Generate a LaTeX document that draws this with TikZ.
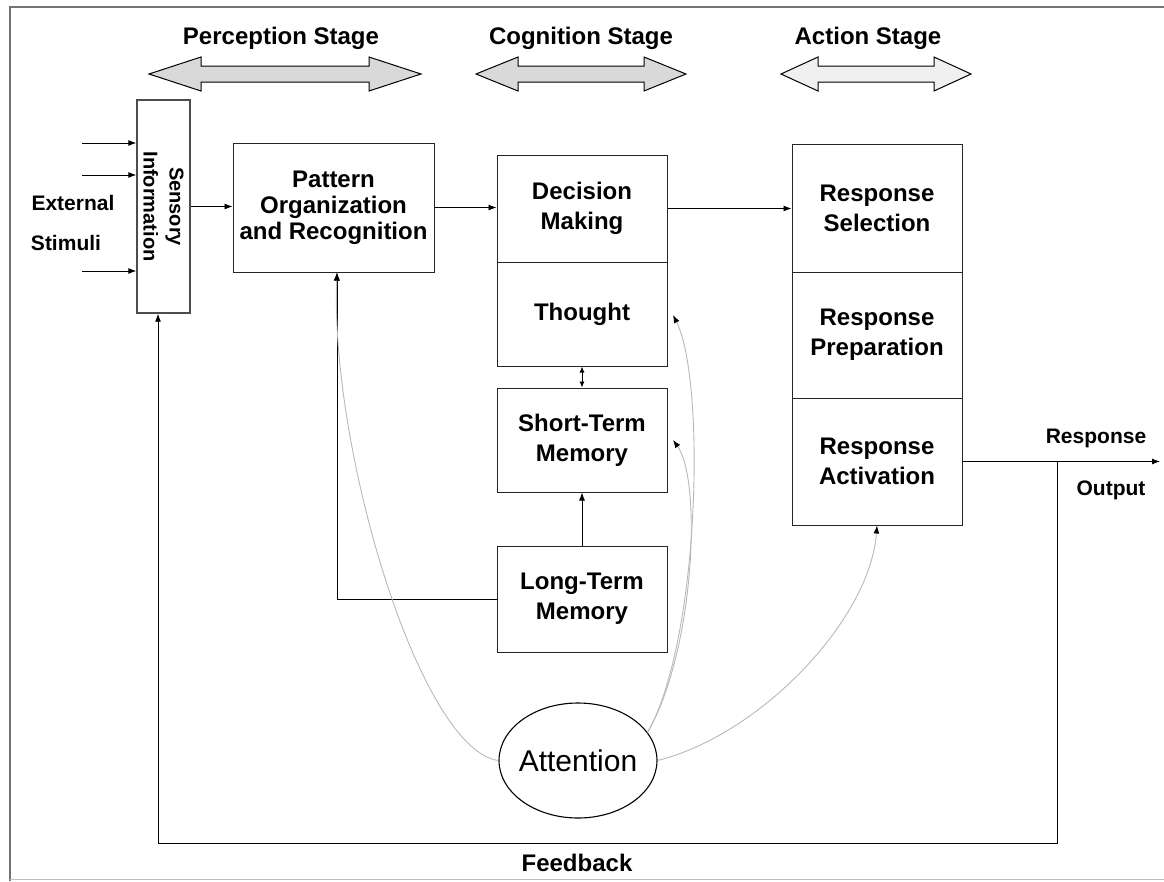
\documentclass[tikz,border=0pt]{standalone}
\usepackage{fontspec}
\setmainfont{Liberation Sans}
\usetikzlibrary{arrows.meta,shapes.geometric}
\newcommand{\stgarrow}[5]{%
  \draw[stagearr, fill=#5] (#1,#4) -- ({#1+#3},{#4-17}) -- ({#1+#3},{#4-8}) -- ({#2-#3},{#4-8}) -- ({#2-#3},{#4-17}) -- (#2,#4) -- ({#2-#3},{#4+17}) -- ({#2-#3},{#4+8}) -- ({#1+#3},{#4+8}) -- ({#1+#3},{#4+17}) -- cycle;}
\begin{document}
\begin{tikzpicture}[x=1pt,y=-1pt,
  cell/.style={draw=black!85, line width=1pt, fill=white, inner sep=0pt, align=center,
               font=\fontsize{24}{30}\selectfont\bfseries},
  stagelbl/.style={font=\fontsize{24}{28}\selectfont\bfseries},
  smalllbl/.style={font=\fontsize{21}{24}\selectfont\bfseries},
  stagearr/.style={draw=black, line width=1pt, line join=miter},
  arr/.style={draw=black, line width=0.9pt, -{Latex[length=8pt,width=6pt]}},
  darr/.style={draw=black, line width=0.9pt, {Latex[length=6pt,width=5pt]}-{Latex[length=6pt,width=5pt]}},
  attn/.style={draw=black!28, line width=0.9pt, -{Latex[length=8pt,width=6pt,black]}},
  frame/.style={draw=black!55, line width=1.2pt}]
\useasboundingbox (0,0) rectangle (1164,881);
% frame
\draw[frame] (10,881) -- (10,7) -- (1164,7);
\draw[draw=black!25, line width=1pt] (10,879) -- (1164,879);

% stage labels and arrows
\node[stagelbl] (perc) at (281,38) {Perception Stage};
\node[stagelbl] (cogn) at (581,38) {Cognition Stage};
\node[stagelbl] (actn) at (868,38) {Action Stage};
\stgarrow{149}{421}{52}{74}{black!15}
\stgarrow{476}{686}{42}{74}{black!15}
\stgarrow{781}{971}{37}{74}{black!6}

% boxes
\node[cell, minimum width=53, minimum height=213, line width=1.4pt, draw=black!70] (sensory) at (163.5,206.5) {};
\node[rotate=-90, align=center, font=\fontsize{20}{26}\selectfont\bfseries] (sensorytxt) at (163.5,206.5) {Sensory\\Information};
\node[cell, minimum width=201, minimum height=129] (pattern) at (333.5,207.5) {Pattern\\[-4pt]Organization\\[-4pt]and Recognition};
\node[cell, minimum width=170, minimum height=107] (decision) at (582,208.5) {Decision\\Making};
\node[cell, minimum width=170, minimum height=104] (thought) at (582,314) {Thought};
\node[cell, minimum width=170, minimum height=104] (stm) at (582,440) {Short-Term\\Memory};
\node[cell, minimum width=170, minimum height=106] (ltm) at (582,599) {Long-Term\\Memory};
\node[cell, minimum width=170, minimum height=128] (rs) at (877,208) {Response\\Selection};
\node[cell, minimum width=170, minimum height=126] (rp) at (877,335) {Response\\Preparation};
\node[cell, minimum width=170, minimum height=127] (ra) at (877,461.5) {Response\\Activation};
\node[ellipse, draw=black, line width=1.1pt, minimum width=158, minimum height=115, inner sep=0pt] (att) at (578,760.5) {};
\node[font=\fontsize{30}{34}\selectfont] (atttxt) at (578,760.5) {Attention};

% labels
\node[smalllbl] (ext) at (73,203) {External};
\node[smalllbl] (stim) at (66,243) {Stimuli};
\node[smalllbl] (resp) at (1096,438) {Response};
\node[smalllbl] (outp) at (1111,490) {Output};
\node[stagelbl] (fbl) at (577,863) {Feedback};

% external inputs
\coordinate (in1) at (82,143);
\coordinate (in2) at (82,175);
\coordinate (in3) at (82,271);
\draw[arr] (in1) -- (in1 -| sensory.west);
\draw[arr] (in2) -- (in2 -| sensory.west);
\draw[arr] (in3) -- (in3 -| sensory.west);

% main flow
\draw[arr] (sensory.east) -- (sensory.east -| pattern.west);
\draw[arr] (pattern.east) -- (pattern.east -| decision.west);
\draw[arr] (decision.east) -- (decision.east -| rs.west);
\draw[darr] (thought.south) -- (stm.north);
\draw[arr] (ltm.north) -- (stm.south);
\draw[arr] (ltm.west) -| ([xshift=3.5pt]pattern.south);

% output and feedback
\coordinate (out) at (1160,461.5);
\coordinate (fbtop) at (1057,461.5);
\coordinate (fbcorner) at (1057,843);
\draw[arr] (ra.east) -- (out);
\draw[arr] (fbtop) -- (fbcorner) -| ([xshift=-5.5pt]sensory.south);

% attention links
\draw[attn] (att.west) .. controls (420,750) and (330,450) .. ([xshift=3.5pt]pattern.south);
\draw[attn] (att.22) .. controls (700,640) and (706,380) .. (673,315);
\draw[attn] (att.22) .. controls (695,650) and (702,480) .. (673,440);
\draw[attn] (att.east) .. controls (760,735) and (870,620) .. (ra.south);
\end{tikzpicture}
\end{document}
